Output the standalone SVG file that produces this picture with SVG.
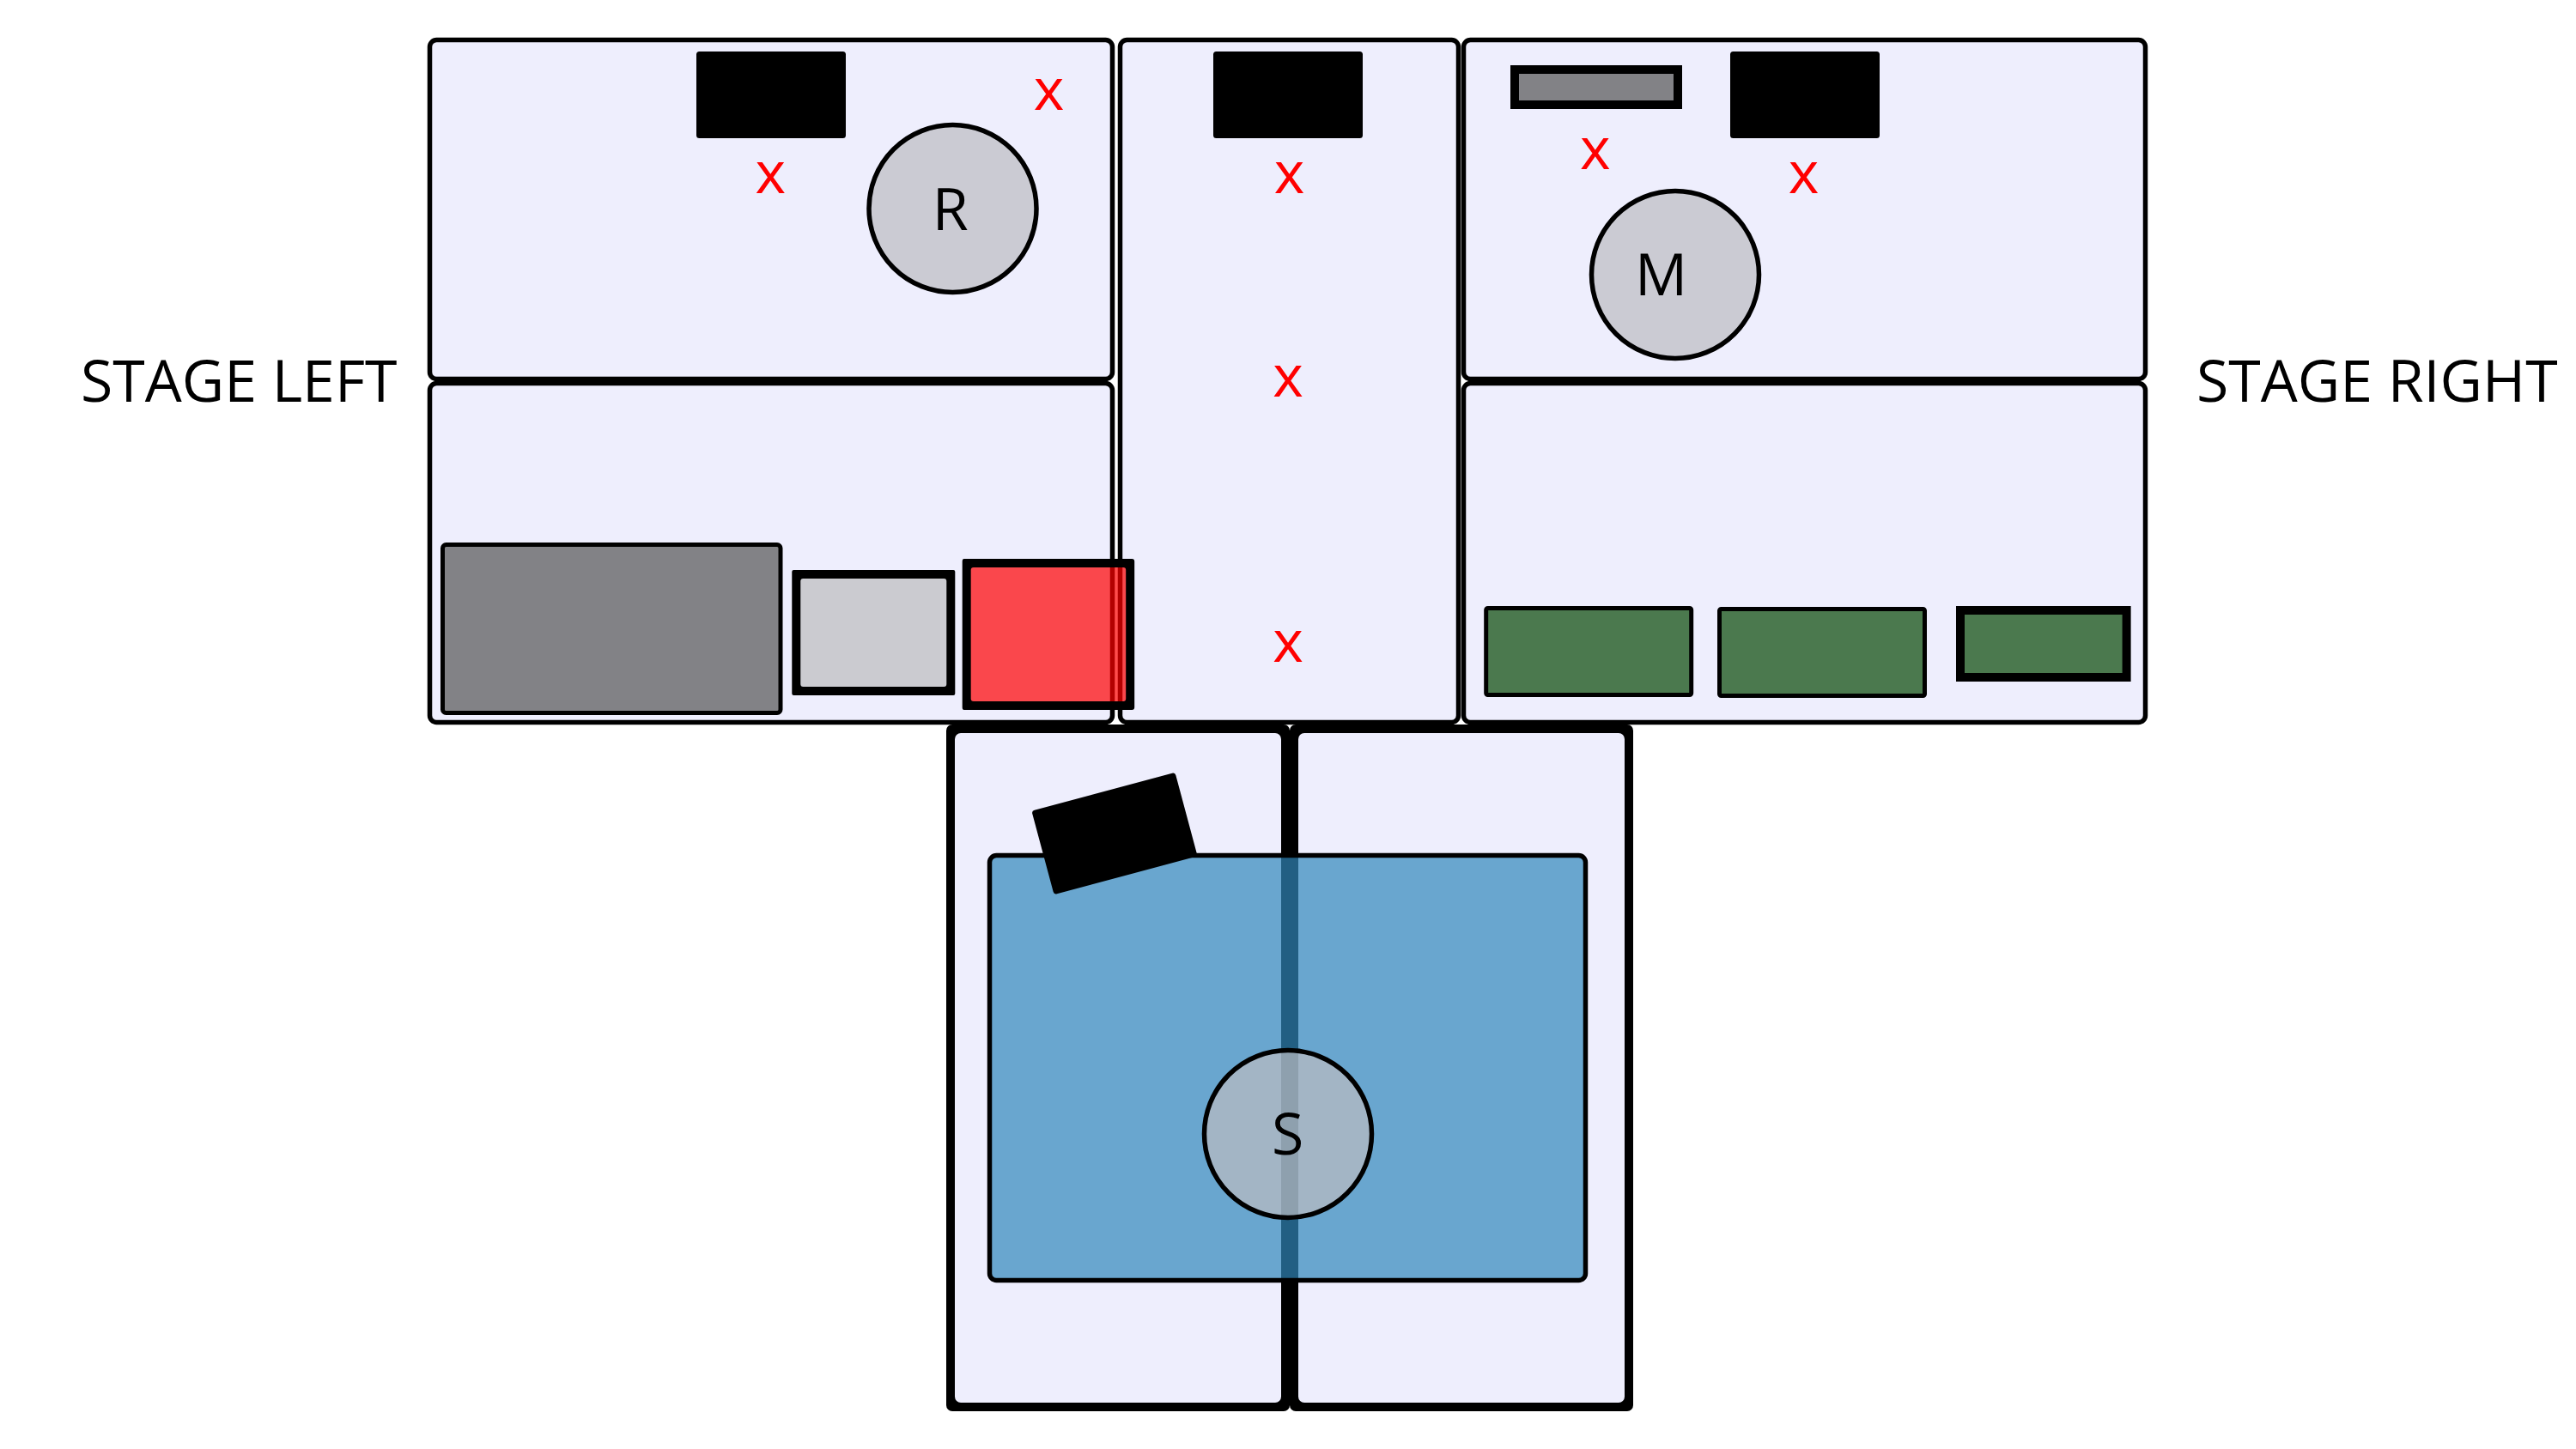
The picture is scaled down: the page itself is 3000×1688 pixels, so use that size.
<svg xmlns="http://www.w3.org/2000/svg" width="3000" height="1688" viewBox="0 0 3000 1688">
<style>
.room{fill:#eeeefd;stroke:#000;stroke-width:5.5}
.ink{fill:#000}
.inner{fill:#eeeefd}
.blk{fill:#000;stroke:#000;stroke-width:5}
.actor{fill:#bcbcc0;fill-opacity:.7;stroke:#000;stroke-width:5.5}
.dark{fill:#828286;stroke:#000}
.lite{fill:#cbcbd0}
.green{fill:#4b794e;stroke:#000}
.t{font-family:"Open Sans",sans-serif;font-size:68px;fill:#000}
.m{text-anchor:middle}
.x{fill:#f00}
</style>
<g id="rooms">
<rect id="room-upper-left" class="room" x="500.5" y="46.5" width="795" height="395" rx="8"/>
<rect id="room-lower-left" class="room" x="500.5" y="446.5" width="795" height="395" rx="8"/>
<rect id="room-center" class="room" x="1304.5" y="46.5" width="394" height="795" rx="8"/>
<rect id="room-upper-right" class="room" x="1704.5" y="46.5" width="794" height="395" rx="8"/>
<rect id="room-lower-right" class="room" x="1704.5" y="446.5" width="794" height="395" rx="8"/>
<g id="room-bottom-left"><rect class="ink" x="1102" y="844" width="400" height="800" rx="7"/><rect class="inner" x="1112" y="854" width="380" height="780" rx="7"/></g>
<g id="room-bottom-right"><rect class="ink" x="1502" y="844" width="400" height="800" rx="7"/><rect class="inner" x="1512" y="854" width="380" height="780" rx="7"/></g>
</g>
<g id="connectors"></g>
<g id="furniture">
<rect id="blk-left" class="blk" x="813.5" y="62.5" width="169" height="96" rx="1"/>
<rect id="blk-center" class="blk" x="1415.5" y="62.5" width="169" height="96" rx="1"/>
<rect id="blk-right" class="blk" x="2017.5" y="62.5" width="169" height="96" rx="1"/>
<rect id="small-gray" class="dark" x="1764" y="81" width="190" height="41" stroke-width="10"/>
<rect id="big-gray" class="dark" x="515.5" y="634.5" width="393.5" height="196" rx="4" stroke-width="5"/>
<g id="light-gray"><rect class="ink" x="922.3" y="664" width="190" height="146" rx="2"/><rect class="lite" x="932.3" y="674" width="170" height="126" rx="3"/></g>
<g id="red-box">
<rect fill="#f00" fill-opacity=".7" x="1125.7" y="656" width="190.5" height="166"/>
<path class="ink" fill-rule="evenodd" d="M1122.7 651H1318.2Q1321.2 651 1321.2 654V824Q1321.2 827 1318.2 827H1122.7Q1120.7 827 1120.7 824V654Q1120.7 651 1122.7 651ZM1133.7 661H1308.2Q1311.2 661 1311.2 664V814Q1311.2 817 1308.2 817H1133.7Q1130.7 817 1130.7 814V664Q1130.7 661 1133.7 661Z"/>
</g>
<rect id="green-1" class="green" x="1730.7" y="708.5" width="239" height="101" rx="2" stroke-width="5"/>
<rect id="green-2" class="green" x="2002.5" y="709.5" width="239" height="101" rx="2" stroke-width="5"/>
<rect id="green-3" class="green" x="2283" y="711" width="193.6" height="78" stroke-width="10"/>
<rect id="stage" fill="#3087bb" fill-opacity=".7" stroke="#000" x="1152.5" y="996.5" width="694" height="495" rx="8" stroke-width="5.5"/>
<rect id="blk-tilted" class="blk" x="1214" y="923" width="168" height="96" rx="1" transform="rotate(-15 1298 971)"/>
</g>
<g id="actor-r"><circle class="actor" cx="1109.5" cy="243" r="97.5"/><text class="t m" x="1106.7" y="268">R</text></g>
<g id="actor-m"><circle class="actor" cx="1951" cy="320" r="97.5"/><text class="t m" x="1934.7" y="344">M</text></g>
<g id="actor-s"><circle class="actor" cx="1500" cy="1321" r="97.5"/><text class="t m" x="1499.7" y="1345">S</text></g>
<g id="marks">
<text class="t m x" x="1221.5" y="128">x</text>
<text class="t m x" x="897.4" y="225">x</text>
<text class="t m x" x="1501.5" y="225">x</text>
<text class="t m x" x="1500" y="461.7">x</text>
<text class="t m x" x="1500" y="770.7">x</text>
<text class="t m x" x="1857.8" y="196.7">x</text>
<text class="t m x" x="2100.6" y="225">x</text>
</g>
<g id="labels">
<text class="t" x="94" y="467.7">STAGE LEFT</text>
<text class="t" x="2558" y="467.7">STAGE RIGHT</text>
</g>
</svg>
